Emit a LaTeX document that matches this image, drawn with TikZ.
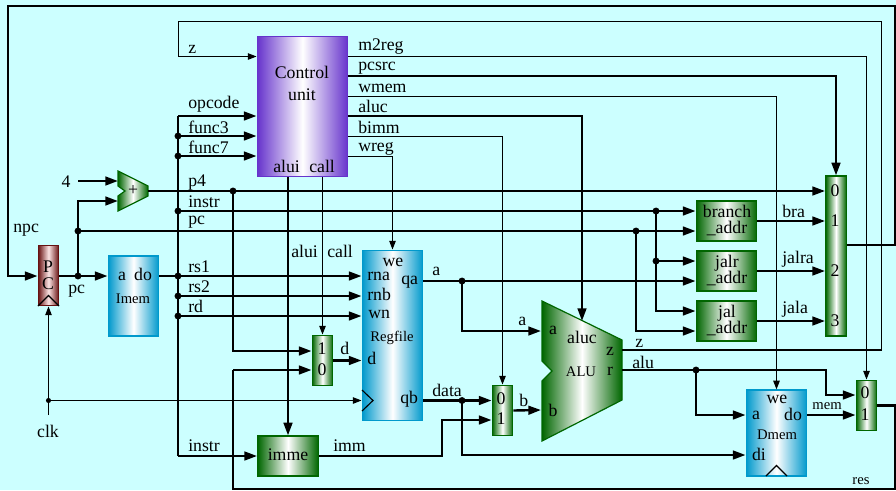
\documentclass[tikz,border=0pt]{standalone}
\usepackage{fontspec}
\setmainfont{Liberation Serif}
\usetikzlibrary{arrows.meta}
\definecolor{bgc}{HTML}{CCFFFF}
\definecolor{gr}{HTML}{006600}
\definecolor{bl}{HTML}{0099CC}
\definecolor{pu}{HTML}{6633CC}
\definecolor{ma}{HTML}{661111}
\definecolor{pk}{HTML}{FBE4E4}
\newcommand{\nfs}{\fontsize{13.3}{15}\selectfont}
\newcommand{\sfs}{\fontsize{11}{13}\selectfont}
\newcount\labc
\newcommand{\wl}[3]{\global\advance\labc by 1 \node[anchor=base west,inner sep=0pt,font=\nfs] (lab\the\labc) at (#1,#2) {#3};}
\newcommand{\cl}[3]{\global\advance\labc by 1 \node[anchor=base,inner sep=0pt,font=\nfs] (lab\the\labc) at (#1,#2) {#3};}
\newcommand{\sml}[3]{\global\advance\labc by 1 \node[anchor=base,inner sep=0pt,font=\sfs] (lab\the\labc) at (#1,#2) {#3};}
\tikzset{
  thickw/.style={line width=1.8pt,-{Triangle[length=9.5pt,width=6.5pt]}},
  thickn/.style={line width=1.8pt},
  thinw/.style={line width=0.9pt,-{Triangle[length=6.5pt,width=4.8pt]}},
  thinn/.style={line width=0.9pt},
  block/.style={rectangle,inner sep=0pt,line width=0.9pt},
  gblock/.style={block,draw=gr,left color=gr,right color=gr,middle color=white},
  bblock/.style={block,draw=bl,left color=bl,right color=bl,middle color=white},
  pblock/.style={block,draw=pu,left color=pu,right color=pu,middle color=white},
  mblock/.style={block,draw=ma,left color=ma,right color=ma,middle color=pk},
  dot/.style={circle,fill=black,inner sep=0pt,minimum size=5.2pt},
  sdot/.style={circle,fill=black,inner sep=0pt,minimum size=3.8pt},
}
\begin{document}
\begin{tikzpicture}[x=0.75pt,y=-0.75pt]
\useasboundingbox (0,0) rectangle (896,490);
\fill[bgc] (0,0) rectangle (896,490);
% blocks
\node[pblock,minimum width=68pt,minimum height=105.5pt] (ctrl) at (302.5,106.5) {};
\node[mblock,minimum width=15.5pt,minimum height=45.5pt] (pcreg) at (48.5,275.5) {};
\node[bblock,minimum width=38pt,minimum height=60pt] (imem) at (133.5,296) {};
\node[bblock,minimum width=45.5pt,minimum height=128pt] (rf) at (392.5,335.5) {};
\node[bblock,minimum width=45.5pt,minimum height=64.5pt] (dmem) at (776.5,433) {};
\node[gblock,minimum width=45.5pt,minimum height=30pt] (imme) at (288,456) {};
\node[gblock,minimum width=45.5pt,minimum height=30pt] (branch) at (726.5,221) {};
\node[gblock,minimum width=45.5pt,minimum height=30pt] (jalr) at (726.5,271) {};
\node[gblock,minimum width=45.5pt,minimum height=30pt] (jal) at (726.5,321) {};
\node[gblock,minimum width=15.5pt,minimum height=120pt] (muxp) at (836,256) {};
\node[gblock,minimum width=15.5pt,minimum height=38pt] (muxd) at (322.5,360.5) {};
\node[gblock,minimum width=15.5pt,minimum height=38pt] (muxb) at (502.5,410.5) {};
\node[gblock,minimum width=15.5pt,minimum height=38pt] (muxr) at (866.5,405.5) {};
% adder and ALU
\path[draw=gr,line width=0.9pt,left color=gr,right color=gr,middle color=white]
  (118,171) -- (148,186) -- (148,196) -- (118,211) -- (118,196) -- (125,191) -- (118,186) -- cycle;
\path[draw=gr,line width=0.9pt,left color=gr,right color=gr,middle color=white]
  (542,301) -- (622,340) -- (622,400) -- (542,441) -- (542,381) -- (552,371) -- (542,361) -- cycle;
\coordinate (addA) at (118,181);
\coordinate (addB) at (118,201);
\coordinate (addO) at (148,191);
\coordinate (aluA) at (541,331);
\coordinate (aluB) at (541,410);
\coordinate (aluC) at (582,321);
\coordinate (aluZ) at (622,350);
\coordinate (aluR) at (622,370);
\coordinate (four) at (78,181);
\coordinate (clkin) at (48.5,415);
% clock triangles
\draw[line width=0.85pt] (38,306) -- (48.5,295.5) -- (59,306);
\draw[line width=0.85pt] (362,390) -- (373,400.5) -- (362,411);
\draw[line width=0.85pt] (766,476) -- (776.5,465.5) -- (787,476);
% junctions
\node[dot] (jpc) at (78,276) {};
\node[dot] (jpc2) at (78,231) {};
\node[dot] (jf3) at (178,136) {};
\node[dot] (jf7) at (178,156) {};
\node[dot] (jin) at (178,211) {};
\node[dot] (jrs1) at (178,276) {};
\node[dot] (jrs2) at (178,296) {};
\node[dot] (jrd) at (178,316) {};
\node[dot] (jp4) at (233,191) {};
\node[dot] (jqa) at (462,281) {};
\node[dot] (jqb) at (462,400.5) {};
\node[dot] (jbr1) at (656,211) {};
\node[dot] (jbr2) at (656,261) {};
\node[dot] (jbr3) at (636,231) {};
\node[dot] (jalu) at (696,370) {};
\node[sdot] (jclk) at (48.5,400.5) {};
% thin wires
\draw[thinw] (aluZ) -- (881.5,350) -- (881.5,21.5) -- (178.5,21.5) -- (178.5,56.5) -- (ctrl.west |- 0,56.5);
\draw[thinw] (ctrl.east |- 0,56.5) -- (866.5,56.5) -- (muxr.north);
\draw[thinw] (ctrl.east |- 0,96.5) -- (776.5,96.5) -- (dmem.north);
\draw[thinw] (ctrl.east |- 0,136.5) -- (502.5,136.5) -- (muxb.north);
\draw[thinw] (ctrl.east |- 0,156.5) -- (392.5,156.5) -- (rf.north);
\draw[thinw] (ctrl.south -| 322.5,0) -- (muxd.north);
\draw[thinw] (jclk.center) -- (pcreg.south);
\draw[thinn] (clkin) -- (jclk.center);
\draw[thinw] (jclk.center) -- (rf.west |- jclk);
% thick wires
\draw[thickw] (ctrl.east |- 0,76) -- (836,76) -- (muxp.north);
\draw[thickw] (ctrl.east |- 0,116) -- (582,116) -- (aluC);
\draw[thickw] (ctrl.south -| 288,0) -- (imme.north);
\draw[thickw] (four) -- (addA);
\draw[thickw] (jpc.center) -- (78,201) -- (addB);
\draw[thickw] (addO) -- (muxp.west |- addO);
\draw[thickn] (jpc2.center) -- (jbr3.center);
\draw[thickw] (jbr3.center) -- (branch.west |- jbr3);
\draw[thickn] (jin.center) -- (jbr1.center);
\draw[thickw] (jbr1.center) -- (branch.west |- jbr1);
\draw[thickw] (jbr1.center) -- (jbr2.center) -- (jalr.west |- jbr2);
\draw[thickw] (jbr2.center) -- (656,311) -- (jal.west |- 0,311);
\draw[thickw] (jbr3.center) -- (636,331) -- (jal.west |- 0,331);
\draw[thickw] (branch.east) -- (muxp.west |- branch.east);
\draw[thickw] (jalr.east) -- (muxp.west |- jalr.east);
\draw[thickw] (jal.east) -- (muxp.west |- jal.east);
\draw[thickw] (pcreg.east |- jpc) -- (imem.west |- jpc);
\draw[thickn] (muxr.east) -- (895,405.5) -- (895,489) -- (233,489) -- (233,370);
\draw[thickw] (233,370) -- (muxd.west |- 0,370);
\draw[thickw] (jp4.center) -- (233,351) -- (muxd.west |- 0,351);
\draw[thickw] (muxd.east) -- (rf.west |- muxd.east);
\draw[thickw] (muxp.east |- 0,245) -- (895,245) -- (895,6) -- (8,6) -- (8,276) -- (pcreg.west |- jpc);
\draw[thickn] (imem.east |- jrs1) -- (jrs1.center);
\draw[thickw] (jrs1.center) -- (rf.west |- jrs1);
\draw[thickw] (jrs2.center) -- (rf.west |- jrs2);
\draw[thickw] (jrd.center) -- (rf.west |- jrd);
\draw[thickw] (178,116) -- (ctrl.west |- 0,116);
\draw[thickw] (jf3.center) -- (ctrl.west |- jf3);
\draw[thickw] (jf7.center) -- (ctrl.west |- jf7);
\draw[thickn] (178,116) -- (178,456);
\draw[thickw] (178,456) -- (imme.west);
\draw[thickw] (imme.east) -- (442,456) -- (442,420) -- (muxb.west |- 0,420);
\draw[thickw] (rf.east |- jqb) -- (muxb.west |- jqb);
\draw[thickw] (jqb.center) -- (462,455) -- (dmem.west |- 0,455);
\draw[thickw] (muxb.east) -- (aluB);
\draw[thickw] (rf.east |- jqa) -- (jalr.west |- jqa);
\draw[thickw] (jqa.center) -- (462,331) -- (aluA);
\draw[thickn] (aluR) -- (jalu.center);
\draw[thickw] (jalu.center) -- (826,370) -- (826,395) -- (muxr.west |- 0,395);
\draw[thickw] (jalu.center) -- (696,415) -- (dmem.west |- 0,415);
\draw[thickw] (dmem.east |- 0,415) -- (muxr.west |- 0,415);
% labels: control
\cl{302}{78}{Control}
\cl{302}{100}{unit}
\wl{273}{172}{alui}
\wl{309}{172}{call}
\wl{188}{53}{z}
\wl{188}{108}{opcode}
\wl{188}{133}{func3}
\wl{188}{153}{func7}
\wl{188}{186}{p4}
\wl{188}{207}{instr}
\wl{188}{224}{pc}
\wl{13}{232}{npc}
\cl{66}{187}{4}
\cl{133}{195.5}{+}
\wl{358}{50}{m2reg}
\wl{358}{70}{pcsrc}
\wl{358}{92}{wmem}
\wl{358}{112}{aluc}
\wl{358}{133}{bimm}
\wl{358}{151}{wreg}
% address blocks
\wl{782}{217}{bra}
\cl{727}{217.5}{branch}
\cl{727}{233.5}{\_addr}
\cl{727}{267.5}{jalr}
\cl{727}{283.5}{\_addr}
\cl{727}{317}{jal}
\cl{727}{333}{\_addr}
\wl{782}{263}{jalra}
\wl{782}{313}{jala}
\cl{835}{196}{0}
\cl{835}{226}{1}
\cl{835}{276}{2}
\cl{835}{326}{3}
% ALU
\cl{553}{334}{a}
\cl{582}{343}{aluc}
\sml{581}{376}{ALU}
\cl{553}{416}{b}
\cl{610}{355}{z}
\cl{610}{375}{r}
\wl{635}{347}{z}
\wl{632}{368}{alu}
% regfile
\cl{393}{266}{we}
\wl{367}{280}{rna}
\wl{401}{284}{qa}
\wl{367}{300}{rnb}
\wl{368}{318}{wn}
\sml{392}{341}{Regfile}
\wl{367}{364}{d}
\wl{400}{403}{qb}
\wl{432}{275}{a}
\wl{518}{325}{a}
\wl{340}{354}{d}
\wl{432}{396}{data}
\wl{519}{406}{b}
\wl{333}{451}{imm}
\cl{501}{404}{0}
\cl{501}{424}{1}
\cl{322}{354}{1}
\cl{322}{375}{0}
\wl{291}{257}{alui}
\wl{327}{257}{call}
\wl{188}{272}{rs1}
\wl{188}{292}{rs2}
\wl{188}{312}{rd}
\wl{188}{451}{instr}
\wl{68}{293}{pc}
\cl{48}{437}{clk}
\cl{48}{272}{P}
\cl{48}{289}{C}
\cl{122}{280}{a}
\cl{143}{280}{do}
\sml{133}{303}{Imem}
\cl{288}{460}{imme}
\cl{777}{403}{we}
\cl{756}{419}{a}
\cl{793}{420}{do}
\sml{777}{439}{Dmem}
\cl{759}{460}{di}
\cl{865}{398}{0}
\cl{865}{420}{1}
\sml{827}{409}{mem}
\sml{861}{484}{res}
\end{tikzpicture}
\end{document}
